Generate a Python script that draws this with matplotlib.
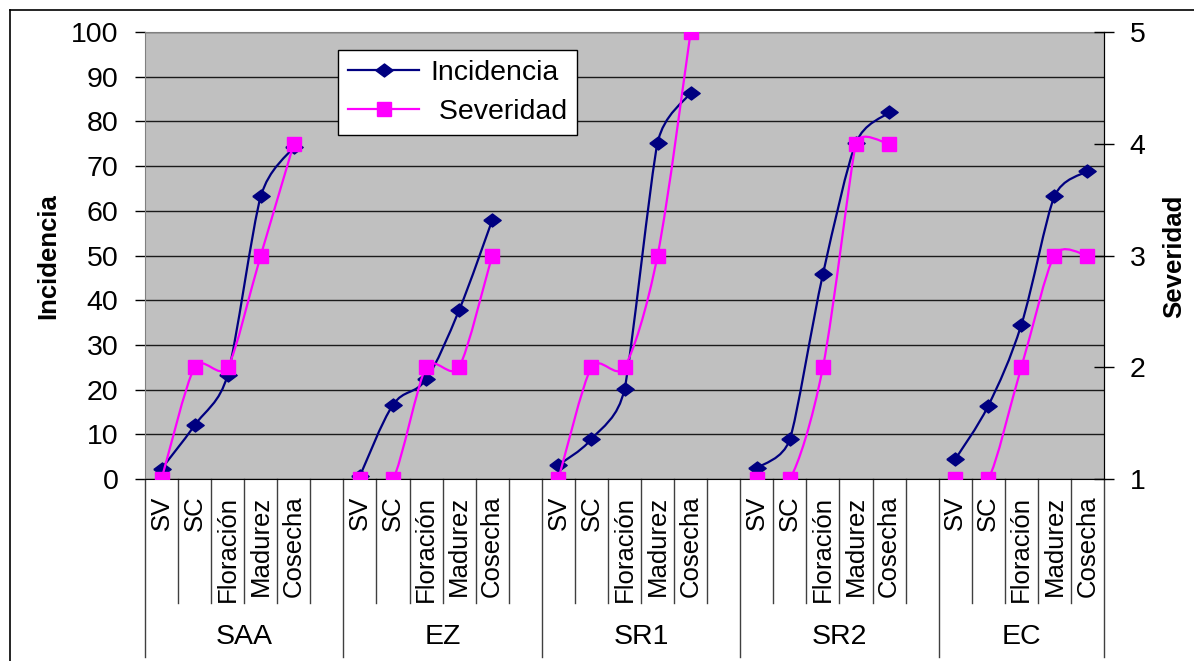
import math
import matplotlib
matplotlib.use('Agg')
import matplotlib.pyplot as plt
from matplotlib.path import Path
from matplotlib.patches import PathPatch
from matplotlib.lines import Line2D

plt.rcParams['font.family'] = ['Liberation Sans', 'DejaVu Sans']

# ---------------- data ----------------
groups = ['SAA', 'EZ', 'SR1', 'SR2', 'EC']
stages = ['SV', 'SC', 'Floración', 'Madurez', 'Cosecha']
incidencia = [
    [2.3, 12.0, 23.3, 63.2, 74.3],
    [0.7, 16.6, 22.3, 37.8, 57.9],
    [3.1, 8.9, 20.1, 75.2, 86.4],
    [2.4, 8.9, 45.8, 75.2, 82.0],
    [4.4, 16.4, 34.5, 63.2, 68.9],
]
severidad = [
    [1, 2, 2, 3, 4],
    [1, 1, 2, 2, 3],
    [1, 2, 2, 3, 5],
    [1, 1, 2, 4, 4],
    [1, 1, 2, 3, 3],
]
inc_ticks = list(range(0, 101, 10))
sev_ticks = [1, 2, 3, 4, 5]

# ---------------- categories ----------------
slot = len(stages) + 1
cat_labels = []
for gi, g in enumerate(groups):
    cat_labels += stages
    if gi < len(groups) - 1:
        cat_labels.append('')
ncat = len(cat_labels)

NAVY = '#000080'
MAG = '#FF00FF'
FS = 20.5

W, H = 1194, 661
fig = plt.figure(figsize=(W / 100, H / 100), dpi=100)
ax = fig.add_axes([145 / W, 1 - 479 / H, (1104 - 145) / W, (479 - 32) / H])
ax.set_facecolor('#C0C0C0')
ax.set_xlim(-0.5, ncat - 0.5)
ax.set_ylim(0, 100)
ax.set_yticks(inc_ticks)
ax.yaxis.grid(True, color='#1a1a1a', lw=1.0)
ax.set_axisbelow(True)
ax.tick_params(axis='y', direction='out', length=7, width=1, labelsize=FS, pad=12)
ax.set_xticks(range(ncat))
ax.set_xticklabels(cat_labels, rotation=90, fontsize=18.5)
ax.tick_params(axis='x', length=0, pad=12)
for s in ['left', 'top']:
    ax.spines[s].set_color('#808080')
for s in ['bottom', 'right']:
    ax.spines[s].set_color('black')

ax2 = ax.twinx()
ax2.set_ylim(1, 5)
ax2.set_yticks(sev_ticks)
ax2.tick_params(axis='y', direction='inout', length=15, width=1, labelsize=FS, pad=11)
for s in ['left', 'top']:
    ax2.spines[s].set_visible(False)
ax2.spines['right'].set_color('black')
ax2.spines['bottom'].set_visible(False)


def smooth(axis, xs, ys, color, lw):
    """Excel-like smoothed line: cubic Bezier with limited tangent lengths."""
    tr = axis.transData
    P = [tuple(tr.transform((x, y))) for x, y in zip(xs, ys)]
    n = len(P)

    def dist(a, b):
        return math.hypot(a[0] - b[0], a[1] - b[1])

    def tangent(i):
        a = P[i - 1] if i > 0 else P[i]
        b = P[i + 1] if i < n - 1 else P[i]
        d02 = dist(a, b)
        if d02 == 0:
            return (0.0, 0.0)
        L = min(d02 / 6.0, dist(a, P[i]) / 2.0 if i > 0 else d02 / 6.0,
                dist(P[i], b) / 2.0 if i < n - 1 else d02 / 6.0)
        if i == 0 or i == n - 1:
            L = min(L, d02 / 6.0)
        return ((b[0] - a[0]) / d02 * L, (b[1] - a[1]) / d02 * L)

    T = [tangent(i) for i in range(n)]
    verts = [P[0]]
    codes = [Path.MOVETO]
    for i in range(n - 1):
        c1 = (P[i][0] + T[i][0], P[i][1] + T[i][1])
        c2 = (P[i + 1][0] - T[i + 1][0], P[i + 1][1] - T[i + 1][1])
        verts += [c1, c2, P[i + 1]]
        codes += [Path.CURVE4] * 3
    inv = tr.inverted()
    dverts = [tuple(inv.transform(v)) for v in verts]
    axis.add_patch(PathPatch(Path(dverts, codes), fill=False, edgecolor=color, lw=lw,
                             capstyle='round', joinstyle='round', zorder=3))


diamond = [(-1, 0), (0, 0.75), (1, 0), (0, -0.75), (-1, 0)]

for gi in range(len(groups)):
    xs = [gi * slot + k for k in range(len(stages))]
    smooth(ax, xs, incidencia[gi], NAVY, 1.6)
    ax.plot(xs, incidencia[gi], linestyle='none', marker=diamond, markersize=12.5,
            color=NAVY, zorder=4)
    smooth(ax2, xs, severidad[gi], MAG, 1.6)
    ax2.plot(xs, severidad[gi], linestyle='none', marker='s', markersize=10,
             color=MAG, zorder=4)

# separators under the category axis
xt = ax.get_xaxis_transform()
group_edges = [gi * slot - 0.5 for gi in range(len(groups))] + [ncat - 0.5]
for k in range(ncat + 1):
    xb = k - 0.5
    long_ = any(abs(xb - e) < 1e-9 for e in group_edges)
    y1 = -0.398 if long_ else -0.277
    ax.add_line(Line2D([xb, xb], [0, y1], transform=xt, color='#404040', lw=1.0,
                       clip_on=False))
for gi, g in enumerate(groups):
    x0 = group_edges[gi]
    x1 = group_edges[gi + 1]
    ax.text((x0 + x1) / 2, -0.353, g, transform=xt, ha='center', va='center',
            fontsize=FS)

# axis titles
fig.text(48 / W, 1 - 256 / H, 'Incidencia', rotation=90, ha='center', va='center',
         fontsize=18.5, fontweight='bold')
fig.text(1174 / W, 1 - 256 / H, 'Severidad', rotation=90, ha='center', va='center',
         fontsize=18.5, fontweight='bold')

# legend
h1 = Line2D([], [], color=NAVY, lw=1.6, marker=diamond, markersize=12.5)
h2 = Line2D([], [], color=MAG, lw=1.6, marker='s', markersize=10)
leg = ax2.legend([h1, h2], ['Incidencia', ' Severidad'], loc='upper left',
                 bbox_to_anchor=(338 / W, 1 - 50 / H), bbox_transform=fig.transFigure,
                 fontsize=FS, frameon=True, fancybox=False, framealpha=1,
                 edgecolor='black', facecolor='white', handlelength=2.5,
                 handletextpad=0.4, labelspacing=0.45, borderpad=0.35,
                 borderaxespad=0)
leg.get_frame().set_linewidth(1.0)

# outer chart border
fig.add_artist(Line2D([10 / W, 10 / W], [0, 1 - 10 / H], transform=fig.transFigure,
                      color='black', lw=1.2))
fig.add_artist(Line2D([10 / W, 1], [1 - 10 / H, 1 - 10 / H], transform=fig.transFigure,
                      color='black', lw=1.2))

fig.savefig('out.png', dpi=100)
